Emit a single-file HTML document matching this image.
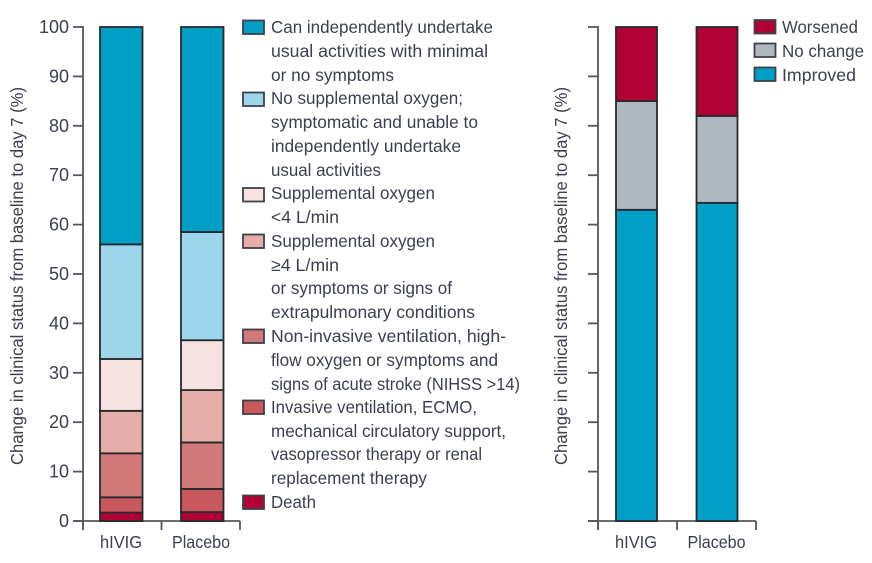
<!DOCTYPE html>
<html>
<head>
<meta charset="utf-8">
<title>Change in clinical status</title>
<style>
html,body{margin:0;padding:0;background:#fff;}
svg{display:block;}
text{font-family:"Liberation Sans",sans-serif;fill:#3b404c;font-size:17.5px;}
</style>
</head>
<body>
<svg id="chart" width="872" height="563" viewBox="0 0 872 563" xmlns="http://www.w3.org/2000/svg">
  <g id="panel-left"></g>
  <g id="panel-right"></g>

  <text transform="translate(23,465) rotate(-90)" textLength="378" lengthAdjust="spacingAndGlyphs">Change in clinical status from baseline to day 7 (%)</text>
  <text transform="translate(567,465) rotate(-90)" textLength="378" lengthAdjust="spacingAndGlyphs">Change in clinical status from baseline to day 7 (%)</text>

  <g stroke="#3c4248" stroke-width="1.8">
    <rect x="243" y="20.5" width="21" height="13.5" fill="#00a0c6"/>
    <rect x="243" y="92.5" width="21" height="13.5" fill="#9dd6ea"/>
    <rect x="243" y="188" width="21" height="13.5" fill="#f6e3e1"/>
    <rect x="243" y="234.5" width="21" height="13.5" fill="#e4ada8"/>
    <rect x="243" y="329.5" width="21" height="13.5" fill="#d27a79"/>
    <rect x="243" y="400.5" width="21" height="13.5" fill="#c8585e"/>
    <rect x="243" y="495.5" width="21" height="13.5" fill="#b10034"/>
  </g>
  <g>
    <text>
      <tspan x="271" y="33" textLength="222" lengthAdjust="spacingAndGlyphs">Can independently undertake</tspan>
      <tspan x="271" y="57" textLength="217" lengthAdjust="spacingAndGlyphs">usual activities with minimal</tspan>
      <tspan x="271" y="81" textLength="123" lengthAdjust="spacingAndGlyphs">or no symptoms</tspan>
    </text>
    <text>
      <tspan x="271" y="104" textLength="192" lengthAdjust="spacingAndGlyphs">No supplemental oxygen;</tspan>
      <tspan x="271" y="128" textLength="207" lengthAdjust="spacingAndGlyphs">symptomatic and unable to</tspan>
      <tspan x="271" y="152" textLength="190" lengthAdjust="spacingAndGlyphs">independently undertake</tspan>
      <tspan x="271" y="176" textLength="110" lengthAdjust="spacingAndGlyphs">usual activities</tspan>
    </text>
    <text>
      <tspan x="271" y="199" textLength="164" lengthAdjust="spacingAndGlyphs">Supplemental oxygen</tspan>
      <tspan x="271" y="223" textLength="68" lengthAdjust="spacingAndGlyphs">&lt;4 L/min</tspan>
    </text>
    <text>
      <tspan x="271" y="247" textLength="164" lengthAdjust="spacingAndGlyphs">Supplemental oxygen</tspan>
      <tspan x="271" y="271" textLength="68" lengthAdjust="spacingAndGlyphs">≥4 L/min</tspan>
      <tspan x="271" y="294" textLength="181" lengthAdjust="spacingAndGlyphs">or symptoms or signs of</tspan>
      <tspan x="271" y="318" textLength="204" lengthAdjust="spacingAndGlyphs">extrapulmonary conditions</tspan>
    </text>
    <text>
      <tspan x="271" y="342" textLength="235" lengthAdjust="spacingAndGlyphs">Non-invasive ventilation, high-</tspan>
      <tspan x="271" y="366" textLength="227" lengthAdjust="spacingAndGlyphs">flow oxygen or symptoms and</tspan>
      <tspan x="271" y="390" textLength="249" lengthAdjust="spacingAndGlyphs">signs of acute stroke (NIHSS &gt;14)</tspan>
    </text>
    <text>
      <tspan x="271" y="413" textLength="206" lengthAdjust="spacingAndGlyphs">Invasive ventilation, ECMO,</tspan>
      <tspan x="271" y="437" textLength="235" lengthAdjust="spacingAndGlyphs">mechanical circulatory support,</tspan>
      <tspan x="271" y="460" textLength="211" lengthAdjust="spacingAndGlyphs">vasopressor therapy or renal</tspan>
      <tspan x="271" y="484" textLength="156" lengthAdjust="spacingAndGlyphs">replacement therapy</tspan>
    </text>
    <text>
      <tspan x="271" y="508" textLength="45" lengthAdjust="spacingAndGlyphs">Death</tspan>
    </text>
  </g>

  <g stroke="#3c4248" stroke-width="1.8">
    <rect x="754.5" y="20" width="21" height="13.5" fill="#b10034"/>
    <rect x="754.5" y="43.5" width="21" height="13.5" fill="#afb7bf"/>
    <rect x="754.5" y="67.5" width="21" height="13.5" fill="#00a0c6"/>
  </g>
  <text x="782" y="33" textLength="76" lengthAdjust="spacingAndGlyphs">Worsened</text>
  <text x="782" y="57" textLength="82" lengthAdjust="spacingAndGlyphs">No change</text>
  <text x="782" y="81" textLength="74" lengthAdjust="spacingAndGlyphs">Improved</text>
</svg>

<script>
const categories = ["hIVIG", "Placebo"];
const yTicks = [0, 10, 20, 30, 40, 50, 60, 70, 80, 90, 100];

// Ordinal scale shares per arm (%), bottom to top of stack
const deathValues = [1.7, 1.8];
const invasiveValues = [3.1, 4.7];
const nonInvasiveValues = [8.9, 9.4];
const oxygenHighValues = [8.6, 10.6];
const oxygenLowValues = [10.5, 10.1];
const noOxygenValues = [23.2, 21.9];
const independentValues = [44.0, 41.5];

// Change from baseline shares per arm (%), bottom to top of stack
const improvedValues = [63.0, 64.4];
const noChangeValues = [22.0, 17.6];
const worsenedValues = [15.0, 18.0];

const NS = "http://www.w3.org/2000/svg";
const AXIS_COLOR = "#55585c";
const BAR_STROKE = "#262a2e";
const y0 = 521;
const y100 = 27;

function yScale(v) {
  return y0 - (v / 100) * (y0 - y100);
}

function line(parent, x1, y1, x2, y2) {
  const el = document.createElementNS(NS, "line");
  el.setAttribute("x1", x1);
  el.setAttribute("y1", y1);
  el.setAttribute("x2", x2);
  el.setAttribute("y2", y2);
  el.setAttribute("stroke", AXIS_COLOR);
  el.setAttribute("stroke-width", 1.8);
  parent.appendChild(el);
  return el;
}

function drawPanel(panelId, axisX, bandWidth, barLefts, barWidth, showYLabels, stacks) {
  const panel = document.getElementById(panelId);

  const yAxis = line(panel, axisX, y100 - 0.9, axisX, y0 + 9);
  
  

  yTicks.forEach(function (t) {
    const tick = line(panel, axisX - 10, yScale(t), axisX, yScale(t));
    
    
    if (showYLabels) {
      const label = document.createElementNS(NS, "text");
      
      
      label.setAttribute("x", axisX - 14);
      label.setAttribute("y", yScale(t) + 6);
      label.setAttribute("text-anchor", "end");
      label.style.fontSize = "18px";
      label.textContent = t;
      panel.appendChild(label);
    }
  });

  const xAxis = line(panel, axisX - 10, y0, axisX + bandWidth * categories.length, y0);
  
  

  for (let i = 0; i <= categories.length; i++) {
    const xTick = line(panel, axisX + bandWidth * i, y0, axisX + bandWidth * i, y0 + 9);
    
    
  }

  categories.forEach(function (cat, i) {
    let cumulative = 0;
    stacks.forEach(function (stack) {
      const v = stack.values[i];
      const rect = document.createElementNS(NS, "rect");
      
      
      rect.setAttribute("x", barLefts[i]);
      rect.setAttribute("y", yScale(cumulative + v));
      rect.setAttribute("width", barWidth);
      rect.setAttribute("height", yScale(cumulative) - yScale(cumulative + v));
      rect.setAttribute("fill", stack.color);
      rect.setAttribute("stroke", BAR_STROKE);
      rect.setAttribute("stroke-width", 1.8);
      panel.appendChild(rect);
      cumulative += v;
    });

    const catLabel = document.createElementNS(NS, "text");
    
    
    catLabel.setAttribute("x", axisX + bandWidth * i + (i === 0 ? 38 : 39.5));
    catLabel.setAttribute("y", 548);
    catLabel.setAttribute("text-anchor", "middle");
    catLabel.setAttribute("textLength", i === 0 ? 42 : 58);
    catLabel.setAttribute("lengthAdjust", "spacingAndGlyphs");
    catLabel.textContent = cat;
    panel.appendChild(catLabel);
  });
}

drawPanel("panel-left", 83, 78.5, [100, 181], 42.5, true, [
  { values: deathValues, color: "#b10034" },
  { values: invasiveValues, color: "#c8585e" },
  { values: nonInvasiveValues, color: "#d27a79" },
  { values: oxygenHighValues, color: "#e4ada8" },
  { values: oxygenLowValues, color: "#f6e3e1" },
  { values: noOxygenValues, color: "#9dd6ea" },
  { values: independentValues, color: "#00a0c6" }
]);

drawPanel("panel-right", 598, 79, [616, 696.5], 41, false, [
  { values: improvedValues, color: "#00a0c6" },
  { values: noChangeValues, color: "#afb7bf" },
  { values: worsenedValues, color: "#b10034" }
]);
</script>
</body>
</html>
